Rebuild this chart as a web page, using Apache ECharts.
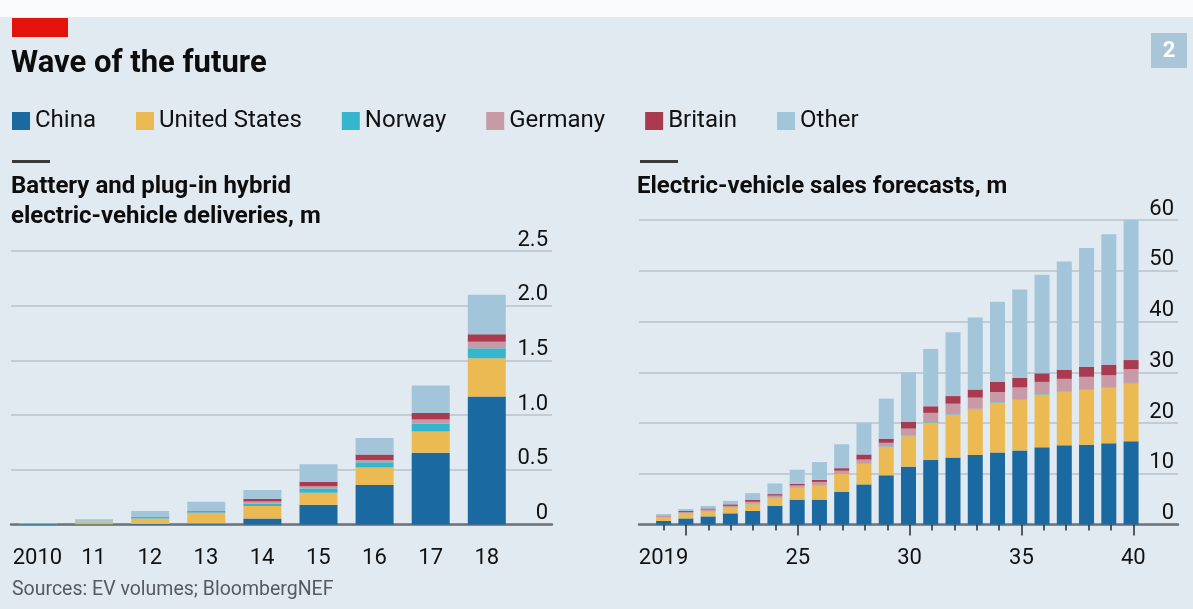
<!DOCTYPE html>
<html>
<head>
<meta charset="utf-8">
<script src="https://cdn.jsdelivr.net/npm/echarts@6/dist/echarts.min.js"></script>
<style>
  html, body { margin: 0; padding: 0; background: #e2eaf1; }
  #chart { width: 1193px; height: 609px; }
</style>
</head>
<body>
<div id="chart"></div>
<script>
// deliveries 2010-18, m
var leftYears = [2010, 2011, 2012, 2013, 2014, 2015, 2016, 2017, 2018];
var leftChina = [0.002, 0.003, 0.005, 0.008, 0.055, 0.18, 0.36, 0.655, 1.17];
var leftUS = [0.001, 0.018, 0.05, 0.095, 0.115, 0.11, 0.16, 0.195, 0.35];
var leftNorway = [0.001, 0.002, 0.006, 0.01, 0.02, 0.04, 0.05, 0.07, 0.09];
var leftGermany = [0, 0.002, 0.004, 0.006, 0.02, 0.02, 0.02, 0.04, 0.06];
var leftBritain = [0, 0.001, 0.003, 0.004, 0.025, 0.04, 0.05, 0.06, 0.07];
var leftOther = [0.004, 0.022, 0.055, 0.085, 0.08, 0.16, 0.15, 0.25, 0.36];

// forecasts 2019-40, m
var rightYears = [2019, 2020, 2021, 2022, 2023, 2024, 2025, 2026, 2027, 2028, 2029,
                  2030, 2031, 2032, 2033, 2034, 2035, 2036, 2037, 2038, 2039, 2040];
var rightChina = [0.7, 1.2, 1.6, 2.2, 2.7, 3.7, 4.9, 4.9, 6.4, 7.9, 9.7,
                  11.4, 12.7, 13.2, 13.7, 14.2, 14.6, 15.2, 15.6, 15.7, 16.0, 16.4];
var rightUS = [0.7, 1.0, 1.0, 1.1, 1.3, 1.5, 2.4, 2.8, 3.6, 4.1, 5.6,
               6.0, 7.4, 8.4, 9.0, 9.8, 10.0, 10.4, 10.5, 10.8, 11.0, 11.4];
var rightNorway = [0.05, 0.05, 0.06, 0.07, 0.08, 0.09, 0.1, 0.1, 0.1, 0.1, 0.1,
                   0.1, 0.1, 0.1, 0.1, 0.1, 0.1, 0.1, 0.1, 0.1, 0.1, 0.1];
var rightGermany = [0.2, 0.2, 0.3, 0.3, 0.4, 0.4, 0.3, 0.6, 0.5, 0.7, 0.7,
                    1.4, 1.8, 2.1, 2.2, 2.0, 2.3, 2.4, 2.5, 2.5, 2.3, 2.7];
var rightBritain = [0.1, 0.2, 0.2, 0.3, 0.4, 0.3, 0.3, 0.4, 0.5, 1.0, 0.8,
                    1.3, 1.3, 1.5, 1.6, 2.0, 1.9, 1.7, 1.8, 2.0, 2.1, 1.8];
var rightOther = [0.3, 0.4, 0.5, 0.7, 1.3, 2.1, 2.8, 3.5, 4.7, 6.2, 7.9,
                  9.8, 11.3, 12.6, 14.2, 15.8, 17.4, 19.4, 21.3, 23.4, 25.7, 27.6];

var rightLabelYears = [2019, 2025, 2030, 2035, 2040];
var rightLongTicks = [2020, 2025, 2030, 2035, 2040];

var names = ['China', 'United States', 'Norway', 'Germany', 'Britain', 'Other'];
var colors = ['#1b69a1', '#ebba52', '#36b6cc', '#c79aa6', '#a93a50', '#a2c5da'];

var FONT = 'Roboto, "Liberation Sans", sans-serif';
var gridColor = '#b9c1c8';
var baseColor = '#6c747b';

var leftSets = [leftChina, leftUS, leftNorway, leftGermany, leftBritain, leftOther];
var rightSets = [rightChina, rightUS, rightNorway, rightGermany, rightBritain, rightOther];

var series = [];
names.forEach(function (name, k) {
    series.push({
        name: name, type: 'bar', stack: 'left', xAxisIndex: 0, yAxisIndex: 0,
        barWidth: 38, itemStyle: { color: colors[k] }, silent: true,
        data: leftSets[k]
    });
});
names.forEach(function (name, k) {
    series.push({
        name: name, type: 'bar', stack: 'right', xAxisIndex: 1, yAxisIndex: 1,
        barWidth: 15, itemStyle: { color: colors[k] }, silent: true,
        data: rightSets[k]
    });
});

var hidden = {
    axisLine: { show: false }, axisTick: { show: false },
    axisLabel: { show: false }, splitLine: { show: false }
};
var yearLabel = function (first) {
    return function (v) { return v === first ? String(v) : String(v).slice(2); };
};

var chart = echarts.init(document.getElementById('chart'));
chart.setOption({
    backgroundColor: '#e2eaf1',
    animation: false,
    textStyle: { fontFamily: FONT },
    title: [
        { text: 'Wave of the future', left: 11, top: 49, padding: 0,
          textStyle: { fontSize: 31, fontWeight: 'bold', color: '#0d0d0d', fontFamily: FONT } },
        { text: 'Battery and plug-in hybrid\nelectric-vehicle deliveries, m', left: 11, top: 172, padding: 0,
          textStyle: { fontSize: 24, fontWeight: 'bold', color: '#0d0d0d', lineHeight: 30, fontFamily: FONT } },
        { text: 'Electric-vehicle sales forecasts, m', left: 637, top: 172, padding: 0,
          textStyle: { fontSize: 24, fontWeight: 'bold', color: '#0d0d0d', lineHeight: 30, fontFamily: FONT } }
    ],
    legend: {
        data: names, left: 12, top: 109, padding: 0,
        icon: 'rect', itemWidth: 18, itemHeight: 18, itemGap: 40,
        selectedMode: false,
        textStyle: { fontSize: 24, color: '#111', fontFamily: FONT }
    },
    grid: [
        // bar grids: one band per year
        { left: 9.95, width: 504.9, top: 251, bottom: 84.5 },
        { left: 652.5, width: 489.7, top: 220, bottom: 84.5 },
        // axis grids: gridlines, baseline, labels
        { left: 11, width: 541, top: 251, bottom: 84.5 },
        { left: 639, width: 539, top: 220, bottom: 84.5 }
    ],
    xAxis: [
        Object.assign({ gridIndex: 0, type: 'category', data: leftYears }, hidden),
        Object.assign({ gridIndex: 1, type: 'category', data: rightYears }, hidden),
        { gridIndex: 2, type: 'value', min: 2009.53, max: 2019.16,
          splitLine: { show: false },
          axisLine: { lineStyle: { color: baseColor, width: 2.5 } },
          axisTick: { show: false },
          axisLabel: { customValues: leftYears, margin: 23, fontSize: 22, color: '#111',
                       formatter: yearLabel(2010) } },
        { gridIndex: 3, type: 'value', min: 2017.9, max: 2042.0,
          splitLine: { show: false },
          axisLine: { lineStyle: { color: baseColor, width: 2.5 } },
          axisTick: { customValues: rightYears, length: 6, lineStyle: { color: '#2b2b2b', width: 1.5 } },
          axisLabel: { customValues: rightLabelYears, margin: 23, fontSize: 22, color: '#111',
                       formatter: yearLabel(2019) } },
        { gridIndex: 3, type: 'value', min: 2017.9, max: 2042.0, position: 'bottom',
          splitLine: { show: false }, axisLine: { show: false },
          axisTick: { customValues: rightLongTicks, length: 11, lineStyle: { color: '#2b2b2b', width: 1.5 } },
          axisLabel: { show: false } }
    ],
    yAxis: [
        Object.assign({ gridIndex: 0, type: 'value', min: 0, max: 2.5 }, hidden),
        Object.assign({ gridIndex: 1, type: 'value', min: 0, max: 60 }, hidden),
        { gridIndex: 2, type: 'value', position: 'right', min: 0, max: 2.5, interval: 0.5,
          axisLine: { show: false }, axisTick: { show: false },
          splitLine: { lineStyle: { color: gridColor, width: 1.5 } },
          axisLabel: { inside: true, margin: 4, fontSize: 22, color: '#111',
                       verticalAlign: 'bottom',
                       formatter: function (v) { return v === 0 ? '0' : v.toFixed(1); } } },
        { gridIndex: 3, type: 'value', position: 'right', min: 0, max: 60, interval: 10,
          axisLine: { show: false }, axisTick: { show: false },
          splitLine: { lineStyle: { color: gridColor, width: 1.5 } },
          axisLabel: { inside: true, margin: 4, fontSize: 22, color: '#111',
                       verticalAlign: 'bottom' } }
    ],
    graphic: [
        { type: 'rect', shape: { x: 0, y: 0, width: 1193, height: 17 }, style: { fill: '#fafbfc' }, silent: true },
        { type: 'rect', shape: { x: 12, y: 18, width: 56, height: 19 }, style: { fill: '#e3120b' }, silent: true },
        { type: 'rect', shape: { x: 1151, y: 33, width: 36, height: 35 }, style: { fill: '#a9c6d8' }, silent: true },
        { type: 'text', x: 1169, y: 51, silent: true,
          style: { text: '2', fill: '#ffffff', font: 'bold 22px ' + FONT, align: 'center', verticalAlign: 'middle' } },
        { type: 'rect', shape: { x: 12, y: 160, width: 38, height: 3 }, style: { fill: '#3a3a3a' }, silent: true },
        { type: 'rect', shape: { x: 640, y: 160, width: 38, height: 3 }, style: { fill: '#3a3a3a' }, silent: true },
        { type: 'text', x: 12, y: 590, silent: true,
          style: { text: 'Sources: EV volumes; BloombergNEF', fill: '#555b60', font: '19.5px ' + FONT, verticalAlign: 'middle' } }
    ],
    series: series
});
</script>
</body>
</html>
